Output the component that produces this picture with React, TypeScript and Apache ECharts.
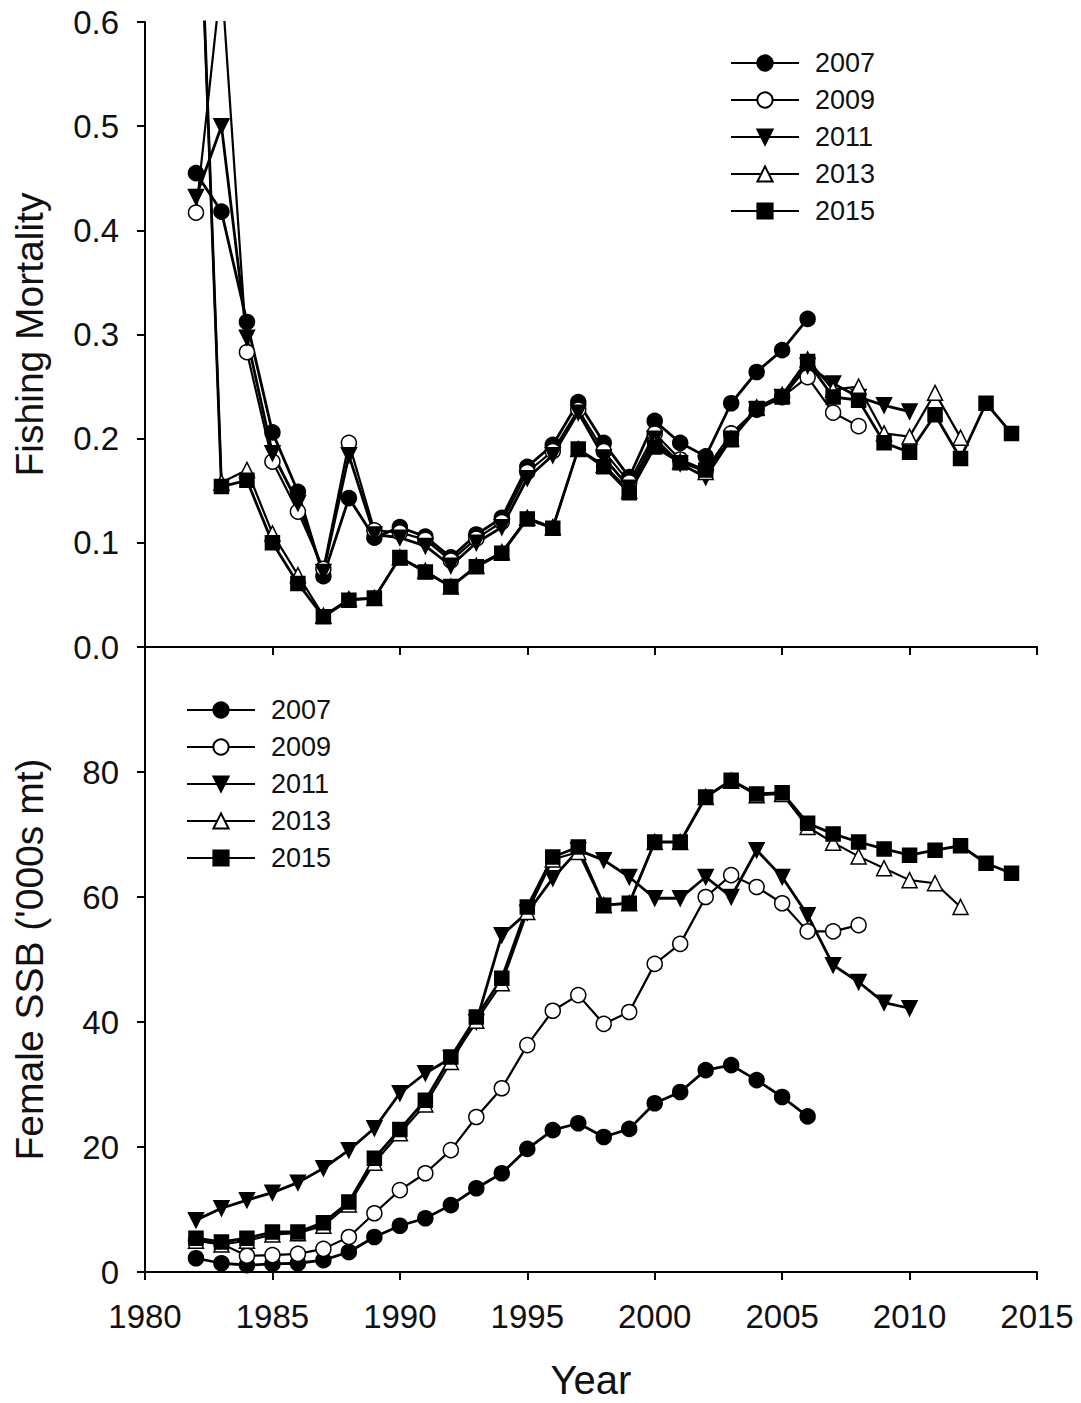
import React, { useEffect, useRef } from "react";
import * as echarts from "echarts";

const seriesNames = ["2007", "2009", "2011", "2013", "2015"];
const startYear = 1982;

// Fishing mortality by assessment year (from 1982 onward)
const f2007 = [0.455, 0.418, 0.312, 0.206, 0.149, 0.068, 0.143, 0.105, 0.115, 0.106, 0.086, 0.108, 0.124, 0.173, 0.194, 0.235, 0.196, 0.163, 0.217, 0.196, 0.183, 0.234, 0.264, 0.285, 0.315];
const f2009 = [0.417, 0.643, 0.283, 0.178, 0.130, 0.075, 0.196, 0.112, 0.110, 0.103, 0.083, 0.104, 0.120, 0.168, 0.188, 0.228, 0.188, 0.158, 0.205, 0.180, 0.170, 0.205, 0.228, 0.240, 0.259, 0.225, 0.212];
const f2011 = [0.432, 0.500, 0.297, 0.186, 0.138, 0.072, 0.184, 0.108, 0.105, 0.097, 0.078, 0.100, 0.115, 0.162, 0.184, 0.225, 0.182, 0.153, 0.200, 0.176, 0.163, 0.200, 0.228, 0.240, 0.270, 0.253, 0.240, 0.232, 0.226];
const f2013 = [0.82, 0.158, 0.170, 0.109, 0.069, 0.030, 0.046, 0.047, 0.086, 0.073, 0.058, 0.078, 0.091, 0.124, 0.115, 0.190, 0.175, 0.150, 0.195, 0.178, 0.168, 0.200, 0.230, 0.242, 0.276, 0.247, 0.250, 0.205, 0.202, 0.244, 0.201];
const f2015 = [0.83, 0.154, 0.160, 0.100, 0.061, 0.029, 0.045, 0.047, 0.086, 0.072, 0.058, 0.077, 0.090, 0.123, 0.114, 0.190, 0.173, 0.148, 0.192, 0.177, 0.170, 0.199, 0.229, 0.240, 0.274, 0.240, 0.237, 0.196, 0.187, 0.223, 0.181, 0.234, 0.205];

// Female SSB ('000s mt)
const s2007 = [2.2, 1.4, 1.1, 1.3, 1.4, 1.9, 3.2, 5.6, 7.4, 8.6, 10.7, 13.4, 15.8, 19.7, 22.7, 23.8, 21.6, 22.9, 27.0, 28.8, 32.3, 33.1, 30.7, 28.0, 24.9];
const s2009 = [5.0, 4.5, 2.6, 2.7, 2.9, 3.7, 5.6, 9.4, 13.1, 15.8, 19.5, 24.8, 29.4, 36.3, 41.8, 44.3, 39.7, 41.6, 49.3, 52.5, 60.0, 63.5, 61.6, 59.0, 54.5, 54.5, 55.5];
const s2011 = [8.3, 10.2, 11.5, 12.7, 14.3, 16.6, 19.5, 23.0, 28.6, 31.8, 34.2, 40.0, 53.9, 57.5, 63.0, 67.5, 65.9, 63.2, 59.8, 59.8, 63.2, 60.0, 67.5, 63.2, 57.1, 49.1, 46.4, 43.1, 42.2];
const s2013 = [5.0, 4.4, 5.0, 6.0, 6.2, 7.4, 10.8, 17.5, 22.2, 26.8, 33.6, 40.2, 46.2, 57.6, 66.0, 67.2, 58.7, 59.0, 68.8, 68.8, 76.0, 78.6, 76.3, 76.5, 71.2, 68.7, 66.5, 64.6, 62.7, 62.2, 58.4];
const s2015 = [5.4, 4.8, 5.4, 6.4, 6.4, 7.9, 11.2, 18.2, 22.8, 27.5, 34.4, 40.8, 47.0, 58.4, 66.4, 68.0, 58.7, 59.0, 68.8, 68.8, 76.0, 78.7, 76.5, 76.7, 71.8, 70.1, 68.8, 67.7, 66.7, 67.5, 68.2, 65.4, 63.8];

const fSeries = [f2007, f2009, f2011, f2013, f2015];
const sSeries = [s2007, s2009, s2011, s2013, s2015];

const FONT = "Liberation Sans, Arial, sans-serif";

const styles = [
  { symbol: "circle", size: 15, fill: "#000", rotate: 0, width: 2.8 },
  { symbol: "circle", size: 15, fill: "#fff", rotate: 0, width: 2.2 },
  { symbol: "triangle", size: 15, fill: "#000", rotate: 180, width: 2.8 },
  { symbol: "triangle", size: 15, fill: "#fff", rotate: 0, width: 2.2 },
  { symbol: "rect", size: 14, fill: "#000", rotate: 0, width: 2.8 },
];

function toPairs(vals: number[]) {
  return vals.map((v, i) => [startYear + i, v]);
}

function makeSeries(data: number[][], idx: number) {
  return data.map((vals, i) => ({
    name: seriesNames[i],
    type: "line",
    xAxisIndex: idx,
    yAxisIndex: idx,
    data: toPairs(vals),
    symbol: styles[i].symbol,
    symbolSize: styles[i].size,
    symbolRotate: styles[i].rotate,
    showAllSymbol: true,
    clip: true,
    lineStyle: { color: "#000", width: styles[i].width },
    itemStyle: { color: styles[i].fill, borderColor: "#000", borderWidth: 1.5, opacity: 1 },
    emphasis: { disabled: true },
  }));
}

const axisLine = { show: true, lineStyle: { color: "#000", width: 2 } };
const axisTick = { show: true, inside: false, length: 8, lineStyle: { color: "#000", width: 2 } };
const labelStyle = { color: "#111", fontFamily: FONT, fontSize: 33 };

export default function App() {
  const ref = useRef<HTMLDivElement>(null);
  useEffect(() => {
    if (!ref.current) return;
    const chart = echarts.init(ref.current, null, { renderer: "svg" });
    const legendBase = {
      orient: "vertical",
      data: seriesNames,
      itemWidth: 68,
      itemHeight: 19,
      itemGap: 7,
      padding: 0,
      selectedMode: false,
      textStyle: { color: "#111", fontFamily: FONT, fontSize: 27, lineHeight: 30, padding: [0, 0, 0, 11] },
    };
    chart.setOption({
      animation: false,
      backgroundColor: "#fff",
      grid: [
        { left: 145, top: 22, width: 892, height: 625, containLabel: false },
        { left: 145, top: 647, width: 892, height: 625, containLabel: false },
      ],
      legend: [
        { ...legendBase, left: 730, top: 48 },
        { ...legendBase, left: 186, top: 695 },
      ],
      xAxis: [
        {
          gridIndex: 0, type: "value", min: 1980, max: 2015, interval: 5,
          axisLine, axisTick, axisLabel: { show: false }, splitLine: { show: false },
        },
        {
          gridIndex: 1, type: "value", min: 1980, max: 2015, interval: 5,
          axisLine, axisTick,
          axisLabel: { ...labelStyle, margin: 28, formatter: (v: number) => String(v) },
          splitLine: { show: false },
          name: "Year", nameLocation: "middle", nameGap: 88,
          nameTextStyle: { color: "#111", fontFamily: FONT, fontSize: 40 },
        },
      ],
      yAxis: [
        {
          gridIndex: 0, type: "value", min: 0, max: 0.6, interval: 0.1,
          axisLine, axisTick,
          axisLabel: { ...labelStyle, margin: 26, formatter: (v: number) => v.toFixed(1) },
          splitLine: { show: false },
          name: "Fishing Mortality", nameLocation: "middle", nameGap: 96, nameRotate: 90,
          nameTextStyle: { color: "#111", fontFamily: FONT, fontSize: 39 },
        },
        {
          gridIndex: 1, type: "value", min: 0, max: 100, interval: 20,
          axisLine, axisTick,
          axisLabel: { ...labelStyle, margin: 26, showMaxLabel: false },
          splitLine: { show: false },
          name: "Female SSB ('000s mt)", nameLocation: "middle", nameGap: 96, nameRotate: 90,
          nameTextStyle: { color: "#111", fontFamily: FONT, fontSize: 39 },
        },
      ],
      series: [...makeSeries(fSeries, 0), ...makeSeries(sSeries, 1)],
    });
    return () => chart.dispose();
  }, []);
  return (
    <div
      ref={ref}
      style={{ position: "fixed", left: 0, top: 0, width: 1081, height: 1403, background: "#fff" }}
    />
  );
}
